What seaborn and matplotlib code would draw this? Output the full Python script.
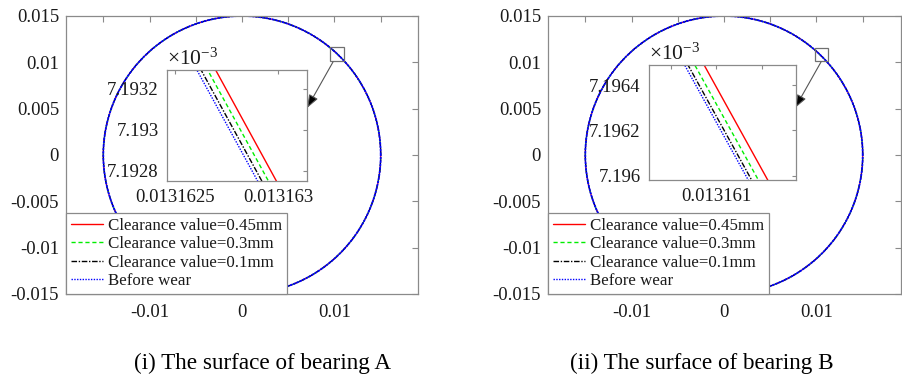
import numpy as np
import matplotlib
matplotlib.use("Agg")
import matplotlib.pyplot as plt
from matplotlib.lines import Line2D
import seaborn as sns

# ---------------- data ----------------
series_labels = ["Clearance value=0.45mm", "Clearance value=0.3mm",
                 "Clearance value=0.1mm", "Before wear"]
series_colors = ["#ff0000", "#00ee00", "#000000", "#0000ff"]
series_styles = ["-", (0, (3, 2)), (0, (4, 1.2, 1, 1.2)), (0, (1, 1))]

# surface radii (m) of each profile
radii_A = [0.015000000, 0.014999966, 0.014999938, 0.014999920]
radii_B = [0.015000000, 0.014999964, 0.014999938, 0.014999925]

main_ticks = [-0.015, -0.01, -0.005, 0, 0.005, 0.01, 0.015]
main_xticklabels = ["", "-0.01", "", "0", "", "0.01", ""]
main_yticklabels = ["-0.015", "-0.01", "-0.005", "0", "0.005", "0.01", "0.015"]

inset_A_xticks = [0.0131625, 0.013163]
inset_A_xticklabels = ["0.0131625", "0.013163"]
inset_A_yticks = [7.1928e-3, 7.1930e-3, 7.1932e-3]
inset_A_yticklabels = ["7.1928", "7.193", "7.1932"]

inset_B_xticks = [0.0131608, 0.0131610, 0.0131612]
inset_B_xticklabels = ["", "0.013161", ""]
inset_B_yticks = [7.1960e-3, 7.1962e-3, 7.1964e-3]
inset_B_yticklabels = ["7.196", "7.1962", "7.1964"]

captions = ["(i) The surface of bearing A", "(ii) The surface of bearing B"]

# ---------------- style ----------------
sns.set_style("white")
plt.rcParams["font.family"] = ["Liberation Serif", "DejaVu Serif"]
plt.rcParams["mathtext.fontset"] = "custom"
plt.rcParams["mathtext.rm"] = "Liberation Serif"
plt.rcParams["axes.unicode_minus"] = False

SPINE = "#8a8a8a"
TXT = "#1a1a1a"
FS = 13.5

fig = plt.figure(figsize=(9.03, 3.79), dpi=100)

main_pos = [[0.0731, 0.2243, 0.3898, 0.7335], [0.6069, 0.2243, 0.3909, 0.7335]]
main_xlim = [(-0.01903, 0.01903), (-0.01903, 0.01914)]
inset_pos = [[0.1849, 0.5224, 0.1550, 0.2929], [0.7187, 0.5250, 0.1628, 0.3034]]
inset_xlim = [(0.01316246, 0.01316314), (0.0131607054, 0.01316135)]
inset_ylim = [(7.19275e-3, 7.19329e-3), (7.19598e-3, 7.19649e-3)]
square = [((0.0095, 0.0101), 0.00152, 0.00152), ((0.00984, 0.01014), 0.0014, 0.0014)]
arrow = [((0.00984, 0.01004), (0.00703, 0.00507)), ((0.01049, 0.01004), (0.00768, 0.00507))]
caption_x = [0.291, 0.777]

all_radii = [radii_A, radii_B]
ins_xt = [(inset_A_xticks, inset_A_xticklabels), (inset_B_xticks, inset_B_xticklabels)]
ins_yt = [(inset_A_yticks, inset_A_yticklabels), (inset_B_yticks, inset_B_yticklabels)]


def style_axes(ax):
    for s in ax.spines.values():
        s.set_color(SPINE)
        s.set_linewidth(0.9)
        s.set_visible(True)
    ax.tick_params(direction="in", length=4, width=0.8, color=SPINE,
                   top=True, right=True, labelsize=FS, labelcolor=TXT)


for k in range(2):
    ax = fig.add_axes(main_pos[k])
    theta = np.linspace(0, 2 * np.pi, 1441)
    for i, (r, col, ls) in enumerate(zip(all_radii[k], series_colors, series_styles)):
        is_blue = i == len(series_colors) - 1
        sns.lineplot(x=r * np.cos(theta), y=r * np.sin(theta), sort=False,
                     estimator=None, ax=ax, color=col,
                     linestyle=(0, (1.5, 0.4)) if is_blue else ls,
                     lw=1.3 if is_blue else 0.8, legend=False)
    ax.set_xlim(*main_xlim[k])
    ax.set_ylim(-0.015, 0.015)
    ax.set_xticks(main_ticks)
    ax.set_xticklabels(main_xticklabels)
    ax.set_yticks(main_ticks)
    ax.set_yticklabels(main_yticklabels)
    style_axes(ax)
    ax.tick_params(axis="x", pad=7)
    ax.tick_params(axis="y", pad=5)

    # small zoom square and arrow
    (sx, sy), sw, sh = square[k]
    ax.add_patch(plt.Rectangle((sx, sy), sw, sh, fill=False, ec="#707070", lw=0.9, zorder=5))
    (x0, y0), (x1, y1) = arrow[k]
    ax.annotate("", xy=(x1, y1), xytext=(x0, y0),
                arrowprops=dict(arrowstyle="-|>,head_length=0.8,head_width=0.3",
                                ec="#555555", fc="black", lw=0.8,
                                shrinkA=0, shrinkB=0), zorder=6)

    handles = [Line2D([], [], color=c, linestyle=s, lw=1.0)
               for c, s in zip(series_colors, series_styles)]
    leg = ax.legend(handles, series_labels, loc="lower left", bbox_to_anchor=(0, 0),
                    borderaxespad=0, fontsize=12.2, frameon=True, fancybox=False,
                    framealpha=1, handlelength=1.9, handletextpad=0.25,
                    labelspacing=0.14, borderpad=0.3)
    leg.get_frame().set_edgecolor(SPINE)
    leg.get_frame().set_linewidth(0.9)
    for t in leg.get_texts():
        t.set_color(TXT)
    leg.set_zorder(10)

    # inset
    axi = fig.add_axes(inset_pos[k])
    axi.set_facecolor("white")
    ylo, yhi = inset_ylim[k]
    for r, col, ls in zip(all_radii[k], series_colors, series_styles):
        t0 = np.arcsin(ylo / r) - 2e-5
        t1 = np.arcsin(yhi / r) + 2e-5
        th = np.linspace(t0, t1, 400)
        sns.lineplot(x=r * np.cos(th), y=r * np.sin(th), sort=False,
                     estimator=None, ax=axi, color=col, linestyle=ls, lw=1.0,
                     legend=False)
    axi.set_xlim(*inset_xlim[k])
    axi.set_ylim(*inset_ylim[k])
    axi.set_xticks(ins_xt[k][0])
    axi.set_xticklabels(ins_xt[k][1])
    axi.set_yticks(ins_yt[k][0])
    axi.set_yticklabels(ins_yt[k][1])
    style_axes(axi)
    axi.tick_params(length=3, pad=6)
    axi.text(0.0, 1.0, r"$\times\mathregular{10^{-3}}$", transform=axi.transAxes,
             ha="left", va="bottom", fontsize=15.5, color=TXT)

    fig.text(caption_x[k], 0.042, captions[k], ha="center", va="center",
             fontsize=16.7, color="black")

fig.savefig("out.png", dpi=100)
